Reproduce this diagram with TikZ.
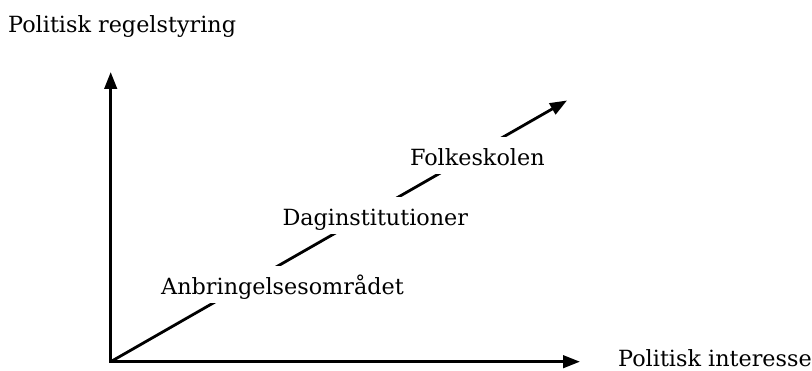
\documentclass[tikz,border=0pt]{standalone}
\usepackage{fontspec}
\setmainfont{DejaVu Serif}
\usetikzlibrary{arrows.meta}
\tikzset{
  axis/.style={line width=2.8pt, -{Triangle[length=17pt,width=12.5pt]}},
  lbl/.style={font=\fontsize{22.3}{26}\selectfont, inner sep=0pt},
  cutlbl/.style={lbl, fill=white, anchor=base, text height=28.5pt, text depth=8pt, inner xsep=3pt},
}
\begin{document}
\begin{tikzpicture}[x=1pt,y=-1pt]
\useasboundingbox (0,0) rectangle (812,371);
\coordinate (O) at (110.7,361.7);
\coordinate (Y) at (110.7,72);
\coordinate (X) at (580,361.7);
\coordinate (D) at (567,100.5);
\draw[axis, line cap=rect] (O) -- (Y);
\draw[axis, line cap=rect] (O) -- (X);
\draw[axis] (O) -- (D);
\node[cutlbl] (a) at (282.5,295) {Anbringelsesområdet};
\node[cutlbl] (b) at (375.3,225.7) {Daginstitutioner};
\node[cutlbl] (c) at (477.3,166) {Folkeskolen};
\node[lbl, anchor=base west] (yl) at (8,33) {Politisk regelstyring};
\node[lbl, anchor=base west] (xl) at (618,366.7) {Politisk interesse};
\end{tikzpicture}
\end{document}
